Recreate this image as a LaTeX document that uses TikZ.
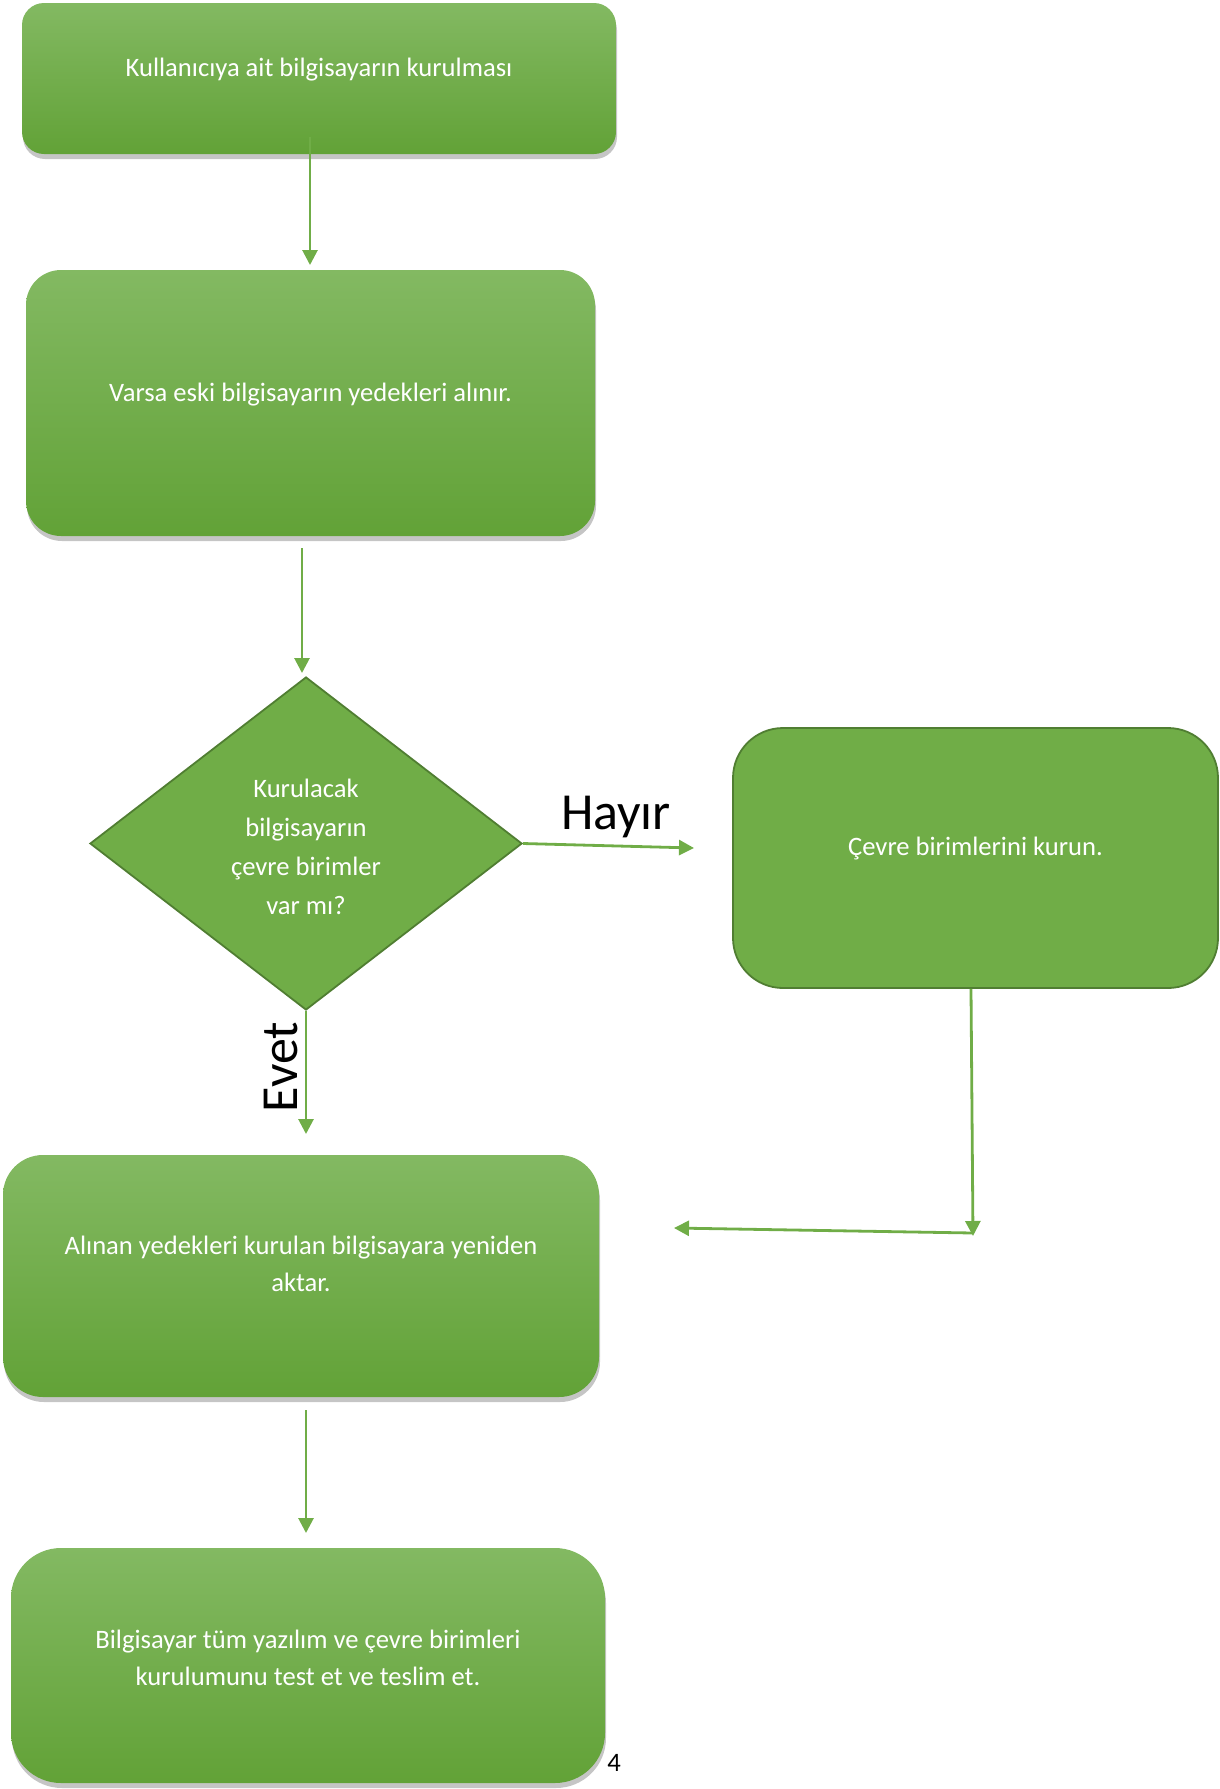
\documentclass[tikz,border=0pt]{standalone}
\usepackage{fontspec}
\setmainfont{Carlito}
\usetikzlibrary{shapes.geometric,arrows.meta,shadows}
\definecolor{gtop}{RGB}{131,185,98}
\definecolor{gbot}{RGB}{98,162,55}
\definecolor{gfill}{RGB}{112,173,71}
\definecolor{gline}{RGB}{80,126,50}
\begin{document}
\begin{tikzpicture}[x=1pt,y=-1pt,
  gbox/.style={rectangle, inner sep=0pt, top color=gtop, bottom color=gbot, draw=none,
     drop shadow={shadow xshift=1pt, shadow yshift=-5pt, opacity=0.3, fill=black!75}},
  sbox/.style={rectangle, inner sep=0pt, fill=gfill, draw=gline, line width=1.8pt},
  btext/.style={text=white, align=center, font=\fontsize{26.6}{37}\selectfont},
  bigtext/.style={text=black, font=\fontsize{52}{60}\selectfont},
  arr/.style={draw=gfill, line width=2.8pt, -{Triangle[length=15pt,width=15pt]}}]
\useasboundingbox (0,0) rectangle (1220,1789);
% boxes
\node[gbox, rounded corners=22pt, minimum width=594pt, minimum height=151pt] (b1) at (319,78.5) {};
\node[btext] (b1t) at (319,69.5) {Kullanıcıya ait bilgisayarın kurulması};
\node[gbox, rounded corners=35pt, minimum width=569pt, minimum height=266pt] (b2) at (310.5,403) {};
\node[btext] (b2t) at (310.5,394.5) {Varsa eski bilgisayarın yedekleri alınır.};
\node[diamond, fill=gfill, draw=gline, line width=1.8pt, inner sep=0pt, minimum width=432pt, minimum height=333pt] (d) at (306,843.5) {};
\node[btext, font=\fontsize{26.6}{39}\selectfont] (dt) at (306,847) {Kurulacak\\bilgisayarın\\çevre birimler\\var mı?};
\node[sbox, rounded corners=50pt, minimum width=485pt, minimum height=260pt] (b3) at (975.5,858) {};
\node[btext] (b3t) at (975.5,848) {Çevre birimlerini kurun.};
\node[gbox, rounded corners=40pt, minimum width=596pt, minimum height=242pt] (b4) at (301,1276) {};
\node[btext] (b4t) at (301,1264) {Alınan yedekleri kurulan bilgisayara yeniden\\aktar.};
\node[gbox, rounded corners=50pt, minimum width=594pt, minimum height=235pt] (b5) at (308,1665.5) {};
\node[btext] (b5t) at (308,1658) {Bilgisayar tüm yazılım ve çevre birimleri\\kurulumunu test et ve teslim et.};
% labels
\node[bigtext] (hayir) at (616,817) {Hayır};
\node[bigtext, rotate=90] (evet) at (281,1067) {Evet};
\node[text=black, font=\fontsize{26.6}{30}\selectfont] (pg) at (614,1763) {4};
% connector end points
\coordinate (p1s) at (310,137);
\coordinate (p1e) at (310,265);
\coordinate (p2s) at (302,548);
\coordinate (p2e) at (302,673);
\coordinate (p3e) at (694,848);
\coordinate (p4e) at (306,1134);
\coordinate (p5e) at (973,1236);
\coordinate (p6s) at (973,1233);
\coordinate (p6e) at (674,1228);
\coordinate (p7s) at (306,1410);
\coordinate (p7e) at (306,1533);
% connectors
\draw[arr] (p1s) -- (p1e);
\draw[arr] (p2s) -- (p2e);
\draw[arr] (d.east) -- (p3e);
\draw[arr] (d.south) -- (p4e);
\draw[arr] (b3.south -| 971,0) -- (p5e);
\draw[arr] (p6s) -- (p6e);
\draw[arr] (p7s) -- (p7e);
\end{tikzpicture}
\end{document}
